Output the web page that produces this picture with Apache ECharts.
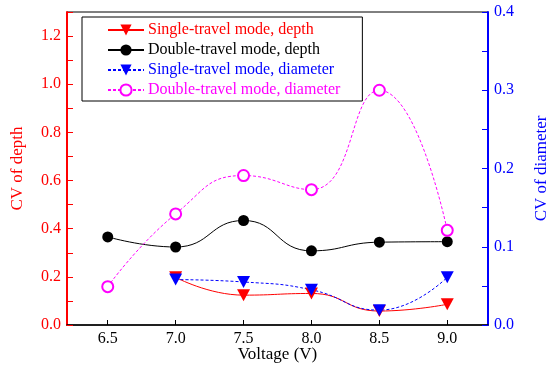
<!DOCTYPE html>
<html>
<head>
<meta charset="utf-8">
<script src="https://cdn.jsdelivr.net/npm/echarts@6/dist/echarts.min.js"></script>
<style>
  html, body { margin: 0; padding: 0; background: #fff; }
  #main { width: 550px; height: 367px; }
</style>
</head>
<body>
<div id="main"></div>
<script>
// voltages (V)
const voltage = [6.5, 7.0, 7.5, 8.0, 8.5, 9.0];

// CV of depth (left axis)
const singleDepth = [null, 0.198, 0.124, 0.131, 0.058, 0.086];
const doubleDepth = [0.366, 0.324, 0.434, 0.308, 0.344, 0.346];

// CV of diameter (right axis)
const singleDiameter = [null, 0.058, 0.055, 0.045, 0.019, 0.061];
const doubleDiameter = [0.049, 0.142, 0.191, 0.173, 0.300, 0.121];

// tick labels / tick marks
const xTicks = [6.5, 7.0, 7.5, 8.0, 8.5, 9.0];
const leftLabels = [0, 0.2, 0.4, 0.6, 0.8, 1.0, 1.2];
const leftTicks = [0, 0.1, 0.2, 0.3, 0.4, 0.5, 0.6, 0.7, 0.8, 0.9, 1.0, 1.1, 1.2, 1.3];
const rightLabels = [0, 0.1, 0.2, 0.3, 0.4];
const rightTicks = [0, 0.05, 0.1, 0.15, 0.2, 0.25, 0.3, 0.35, 0.4];

const names = [
    'Single-travel mode, depth',
    'Double-travel mode, depth',
    'Single-travel mode, diameter',
    'Double-travel mode, diameter'
];

const pair = arr => voltage.map((v, i) => [v, arr[i]]).filter(p => p[1] !== null);

const FONT = '"Liberation Serif", "Times New Roman", serif';
const downTri = 'path://M0,0 L10,0 L5,9 Z';

const chart = echarts.init(document.getElementById('main'));
const option = {
    animation: false,
    textStyle: {fontFamily: FONT},
    grid: {
        left: 67,
        right: 62,
        top: 12,
        bottom: 42,
        outerBoundsMode: 'none',
        show: true,
        borderColor: '#000',
        borderWidth: 1,
        backgroundColor: 'transparent'
    },
    legend: {
        orient: 'vertical',
        left: 82,
        top: 17,
        padding: [3, 22, 1, 25],
        itemWidth: 36,
        itemHeight: 14,
        itemGap: 0,
        borderColor: '#000',
        borderWidth: 1,
        textStyle: {fontFamily: FONT, fontSize: 16, lineHeight: 20, padding: [0, 0, 0, -1]},
        data: [
            {name: names[0], textStyle: {color: '#ff0000'}},
            {name: names[1], textStyle: {color: '#000000'}},
            {name: names[2], textStyle: {color: '#0000ff'}},
            {name: names[3], textStyle: {color: '#ff00ff'}}
        ]
    },
    xAxis: {
        type: 'value',
        min: 6.2,
        max: 9.3,
        name: 'Voltage (V)',
        nameLocation: 'middle',
        nameGap: 21,
        nameMoveOverlap: false,
        nameTextStyle: {fontFamily: FONT, fontSize: 17, color: '#000'},
        axisLine: {onZero: false, lineStyle: {color: '#000', width: 1.5}},
        axisTick: {inside: true, length: 5, customValues: xTicks, lineStyle: {color: '#000'}},
        axisLabel: {
            customValues: xTicks,
            fontFamily: FONT,
            fontSize: 16,
            color: '#000',
            margin: 6,
            formatter: v => v.toFixed(1)
        },
        splitLine: {show: false}
    },
    yAxis: [
        {
            type: 'value',
            min: 0,
            max: 1.3,
            position: 'left',
            name: 'CV of depth',
            nameLocation: 'middle',
            nameGap: 41,
            nameMoveOverlap: false,
            nameTextStyle: {fontFamily: FONT, fontSize: 17, color: '#ff0000'},
            axisLine: {show: true, lineStyle: {color: '#ff0000', width: 2}},
            axisTick: {show: true, inside: true, length: 6, customValues: leftTicks, lineStyle: {color: '#ff0000'}},
            axisLabel: {
                customValues: leftLabels,
                fontFamily: FONT,
                fontSize: 16,
                color: '#ff0000',
                margin: 6,
                formatter: v => v.toFixed(1)
            },
            splitLine: {show: false}
        },
        {
            type: 'value',
            min: 0,
            max: 0.4,
            position: 'right',
            name: 'CV of diameter',
            nameLocation: 'middle',
            nameGap: 45,
            nameMoveOverlap: false,
            nameTextStyle: {fontFamily: FONT, fontSize: 17, color: '#0000ff'},
            axisLine: {show: true, lineStyle: {color: '#0000ff', width: 2}},
            axisTick: {show: true, inside: true, length: 6, customValues: rightTicks, lineStyle: {color: '#0000ff'}},
            axisLabel: {
                customValues: rightLabels,
                fontFamily: FONT,
                fontSize: 16,
                color: '#0000ff',
                margin: 6,
                formatter: v => v.toFixed(1)
            },
            splitLine: {show: false}
        }
    ],
    series: [
        {
            name: names[0],
            type: 'line',
            yAxisIndex: 0,
            smooth: 0.5,
            symbol: downTri,
            symbolSize: [13, 12],
            lineStyle: {color: '#ff0000', width: 1},
            itemStyle: {color: '#ff0000'},
            data: pair(singleDepth)
        },
        {
            name: names[1],
            type: 'line',
            yAxisIndex: 0,
            smooth: 0.5,
            symbol: 'circle',
            symbolSize: 11,
            lineStyle: {color: '#000000', width: 1},
            itemStyle: {color: '#000000'},
            data: pair(doubleDepth)
        },
        {
            name: names[2],
            type: 'line',
            yAxisIndex: 1,
            smooth: 0.5,
            symbol: downTri,
            symbolSize: [13, 12],
            lineStyle: {color: '#0000ff', width: 1, type: [3, 2]},
            itemStyle: {color: '#0000ff'},
            data: pair(singleDiameter)
        },
        {
            name: names[3],
            type: 'line',
            yAxisIndex: 1,
            smooth: 0.5,
            symbol: 'emptyCircle',
            symbolSize: 11,
            lineStyle: {color: '#ff00ff', width: 1, type: [3, 2]},
            itemStyle: {color: '#ff00ff', borderColor: '#ff00ff', borderWidth: 1},
            data: pair(doubleDiameter)
        }
    ]
};
option && chart.setOption(option);
</script>
</body>
</html>
